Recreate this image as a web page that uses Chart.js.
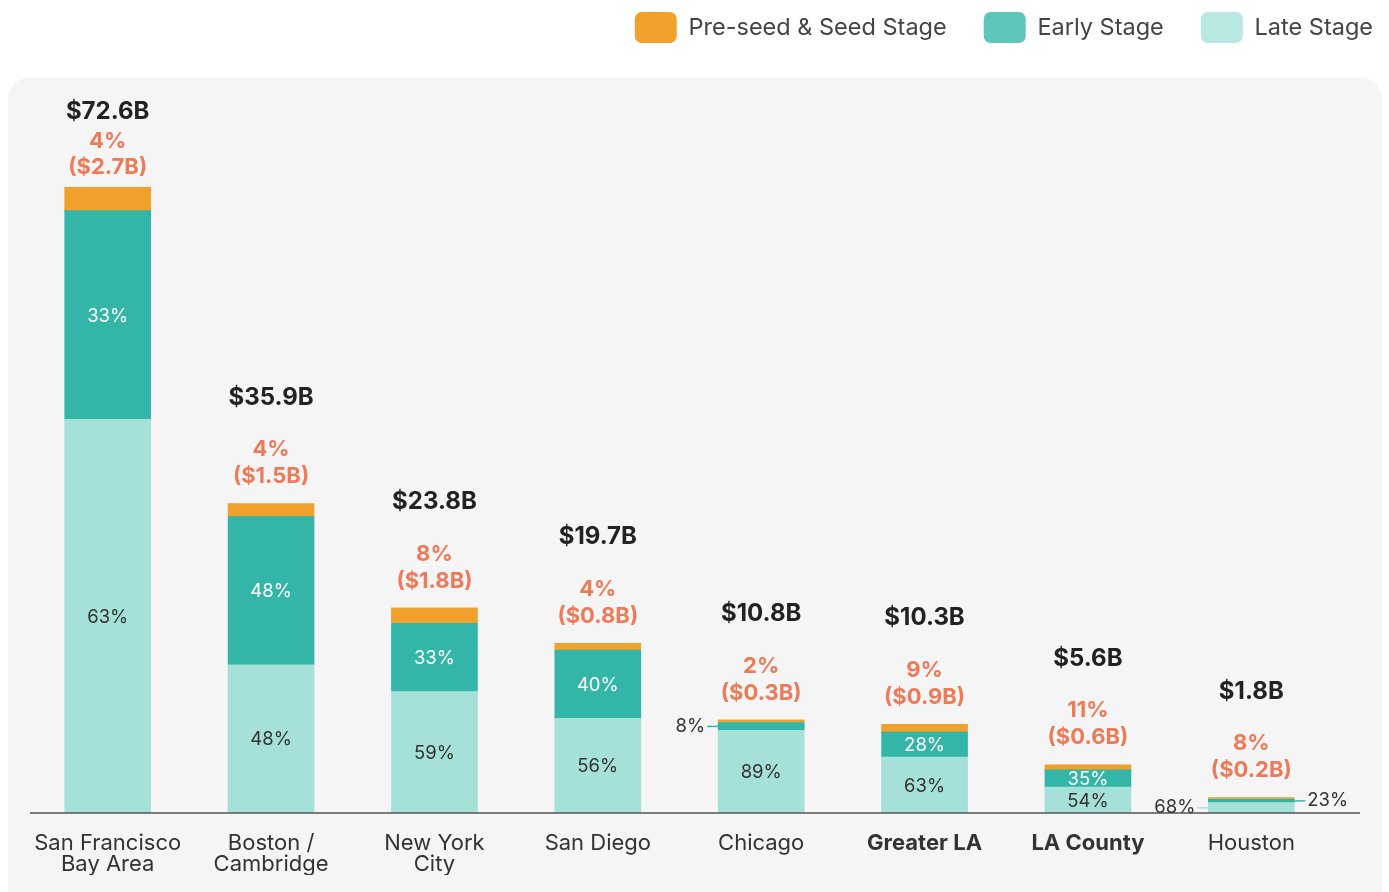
<!DOCTYPE html>
<html><head><meta charset="utf-8">
<script src="https://cdn.jsdelivr.net/npm/chart.js@4.4.1/dist/chart.umd.min.js"></script>
<style>html,body{margin:0;padding:0;background:#fff;overflow:hidden}#wrap{width:1389px;height:892px;position:relative}</style>
</head><body><div id="wrap"><canvas id="c"></canvas></div>
<script>
// ---- data (US$ billions) ----
const categories = [['San Francisco','Bay Area'], ['Boston /','Cambridge'], ['New York','City'], 'San Diego', 'Chicago', 'Greater LA', 'LA County', 'Houston'];
const highlighted = ['Greater LA', 'LA County'];
const totals  = [72.6, 35.9, 23.8, 19.7, 10.8, 10.3, 5.6, 1.8];
const seedB   = [2.7, 1.5, 1.8, 0.8, 0.3, 0.9, 0.6, 0.2];
const earlyB  = [24.2, 17.2, 7.9, 7.9, 0.9, 2.9, 2.0, 0.4];
const lateB   = [45.7, 17.2, 14.1, 11.0, 9.6, 6.5, 3.0, 1.2];
const seedPct  = [4, 4, 8, 4, 2, 9, 11, 8];
const earlyPct = [33, 48, 33, 40, 8, 28, 35, 23];
const latePct  = [63, 48, 59, 56, 89, 63, 54, 68];
const seriesNames = ['Late Stage', 'Early Stage', 'Pre-seed & Seed Stage'];

// ---- styles ----
const FONT = 'Inter, Lato, sans-serif';
const COLORS = { seed: '#f0a12b', early: '#33b6a8', late: '#a6e1d9' };
const LEGEND_COLORS = { 'Pre-seed & Seed Stage': '#f0a22c', 'Early Stage': '#5ec6ba', 'Late Stage': '#b9e7e1' };
const PANEL = { x: 8, top: 77, right: 1382, radius: 22, color: '#f5f5f5' };

const panelPlugin = {
  id: 'panel',
  beforeDraw(chart) {
    const ctx = chart.ctx;
    ctx.save();
    ctx.fillStyle = '#ffffff';
    ctx.fillRect(0, 0, chart.width, chart.height);
    ctx.fillStyle = PANEL.color;
    ctx.beginPath();
    ctx.roundRect(PANEL.x, PANEL.top, PANEL.right - PANEL.x, chart.height + 40, PANEL.radius);
    ctx.fill();
    ctx.restore();
  }
};

const legendShift = {
  id: 'legendShift',
  afterLayout(chart) {
    const l = chart.legend;
    if (!l) return;
    const pad = l.options.labels.padding;
    const dx = (chart.width - 16) - (l.right - pad);
    l.left += dx; l.right += dx;
    l.top -= 25; l.bottom -= 25;
  }
};

const labelPlugin = {
  id: 'stageLabels',
  afterDatasetsDraw(chart) {
    const ctx = chart.ctx;
    const mLate = chart.getDatasetMeta(0), mEarly = chart.getDatasetMeta(1), mSeed = chart.getDatasetMeta(2);
    ctx.save();
    // axis base line
    const yb = chart.scales.y.getPixelForValue(0);
    ctx.strokeStyle = '#555';
    ctx.lineWidth = 1.5;
    ctx.beginPath(); ctx.moveTo(30, yb); ctx.lineTo(1360, yb); ctx.stroke();
    ctx.textBaseline = 'middle';
    categories.forEach((cat, i) => {
      const late = mLate.data[i], early = mEarly.data[i], seed = mSeed.data[i];
      const cx = late.x, half = late.width / 2;
      let outside = 0;
      const segs = [
        { el: late, pct: latePct[i], txt: '#333333', line: COLORS.late },
        { el: early, pct: earlyPct[i], txt: '#ffffff', line: COLORS.early }
      ];
      segs.forEach(s => {
        const h = Math.abs(s.el.base - s.el.y), yc = (s.el.y + s.el.base) / 2;
        const t = s.pct + '%';
        ctx.font = '18.5px ' + FONT;
        if (h >= 12) {
          ctx.fillStyle = s.txt; ctx.textAlign = 'center';
          ctx.fillText(t, cx, yc + 1);
        } else {
          const side = outside++ === 0 ? -1 : 1;
          ctx.strokeStyle = s.line; ctx.lineWidth = 1.5;
          ctx.beginPath(); ctx.moveTo(cx + side * half, yc); ctx.lineTo(cx + side * (half + 11), yc); ctx.stroke();
          ctx.fillStyle = '#333333'; ctx.textAlign = side < 0 ? 'right' : 'left';
          ctx.fillText(t, cx + side * (half + 13), yc);
        }
      });
      const top = seed.y;
      let amtY = top - 27, pctY = amtY - 27, totY = pctY - 52;
      const minTot = PANEL.top + 35;
      if (totY < minTot) { totY = minTot; pctY = totY + 29; amtY = pctY + 26; }
      ctx.textAlign = 'center';
      ctx.fillStyle = '#222222'; ctx.font = 'bold 24px ' + FONT;
      ctx.fillText('$' + totals[i].toFixed(1) + 'B', cx, totY);
      ctx.fillStyle = '#ee7a58'; ctx.font = 'bold 22px ' + FONT;
      ctx.fillText(seedPct[i] + '%', cx, pctY);
      ctx.fillText('($' + seedB[i].toFixed(1) + 'B)', cx, amtY);
    });
    ctx.restore();
  }
};

new Chart(document.getElementById('c'), {
  type: 'bar',
  data: {
    labels: categories,
    datasets: [
      { label: seriesNames[0], data: lateB, backgroundColor: COLORS.late },
      { label: seriesNames[1], data: earlyB, backgroundColor: COLORS.early },
      { label: seriesNames[2], data: seedB, backgroundColor: COLORS.seed }
    ]
  },
  options: {
    responsive: true,
    maintainAspectRatio: false,
    animation: false,
    datasets: { bar: { barThickness: 86, borderWidth: 0 } },
    layout: { padding: { left: 26, right: 56, top: 0, bottom: 17 } },
    plugins: {
      tooltip: { enabled: false },
      legend: {
        position: 'top',
        align: 'end',
        reverse: true,
        labels: {
          font: { family: FONT, size: 23.5 },
          color: '#444',
          boxWidth: 42,
          boxHeight: 31,
          padding: 37,
          useBorderRadius: true,
          borderRadius: 7,
          generateLabels(chart) {
            const items = Chart.defaults.plugins.legend.labels.generateLabels(chart);
            return items.map(it => Object.assign(it, { fillStyle: LEGEND_COLORS[it.text], strokeStyle: LEGEND_COLORS[it.text], lineWidth: 0 }));
          }
        }
      }
    },
    scales: {
      x: {
        stacked: true,
        grid: { display: false, drawTicks: false },
        border: { display: false },
        afterFit(s) { s.height = 62; },
        ticks: {
          padding: 20,
          color: '#333',
          autoSkip: false,
          maxRotation: 0,
          font: (c) => {
            const lab = categories[c.index];
            const bold = typeof lab === 'string' && highlighted.includes(lab);
            return { family: FONT, size: 22, weight: bold ? 'bold' : 'normal', lineHeight: 0.95 };
          }
        }
      },
      y: { stacked: true, display: false, min: 0, max: 85.3 }
    }
  },
  plugins: [panelPlugin, legendShift, labelPlugin]
});
</script>
</body></html>
